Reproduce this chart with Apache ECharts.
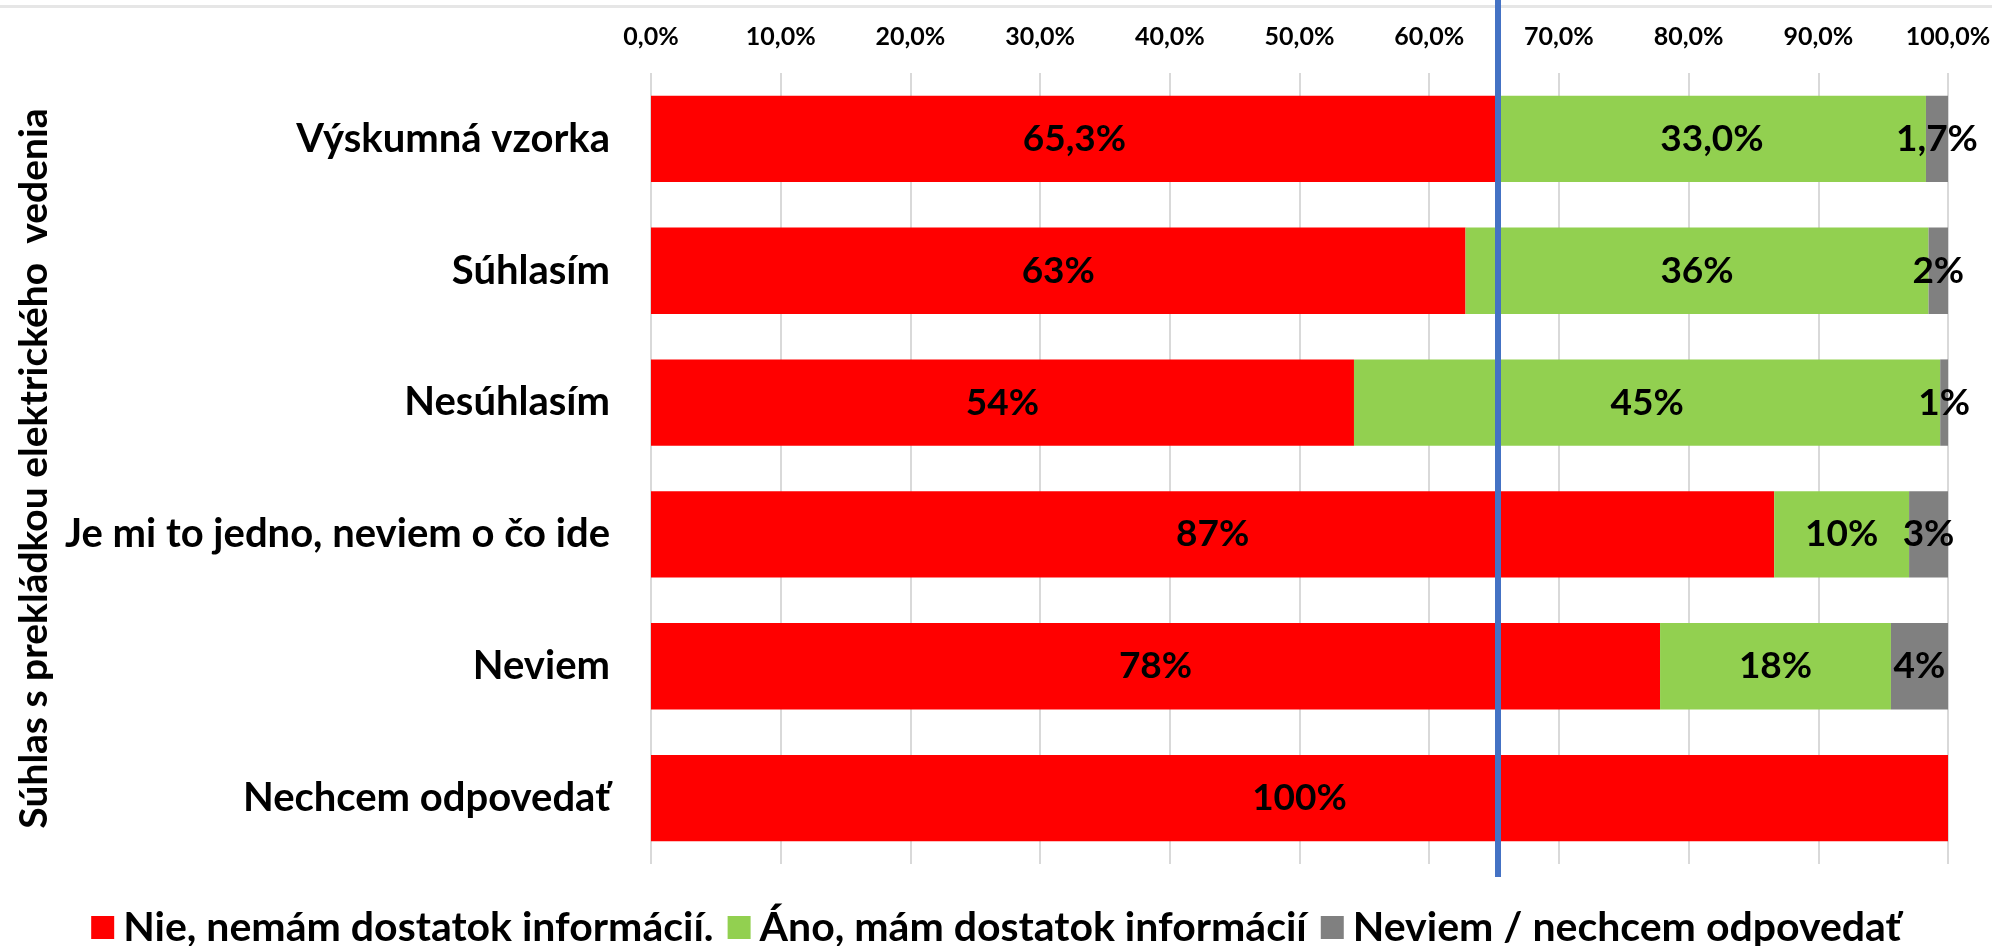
<!DOCTYPE html>
<html>
<head>
<meta charset="utf-8">
<script src="https://cdn.jsdelivr.net/npm/echarts@6/dist/echarts.min.js"></script>
<style>
  html, body { margin: 0; padding: 0; background: #fff; }
  #chart { width: 1992px; height: 946px; }
</style>
</head>
<body>
<div id="chart"></div>
<script>
// kategorie (zhora nadol)
const categories = ['Výskumná vzorka', 'Súhlasím', 'Nesúhlasím', 'Je mi to jedno, neviem o čo ide', 'Neviem', 'Nechcem odpovedať'];
// podiely v %
const nie = [65.3, 62.8, 54.2, 86.6, 77.8, 100];
const ano = [33.0, 35.7, 45.2, 10.4, 17.8, 0];
const neviem = [1.7, 1.5, 0.6, 3.0, 4.4, 0];
// pocet desatinnych miest v popiskoch
const decimals = [1, 0, 0, 0, 0, 0];
// referencna ciara = vyskumna vzorka
const refLine = nie[0];

const FONT = "Lato, 'Open Sans', sans-serif";

const chart = echarts.init(document.getElementById('chart'));

function pct(p) {
  if (!p.value) return '';
  return p.value.toFixed(decimals[p.dataIndex]).replace('.', ',') + '%';
}

const labelStyle = {
  show: true,
  position: 'inside',
  color: '#000',
  fontFamily: FONT,
  fontWeight: 'bold',
  fontSize: 37,
  formatter: pct
};

const option = {
  animation: false,
  textStyle: { fontFamily: FONT },
  graphic: [
    { type: 'rect', shape: { x: 0, y: 5, width: 1992, height: 3 }, style: { fill: '#e6e6e6' }, silent: true }
  ],
  legend: {
    left: 'center',
    top: 902,
    icon: 'rect',
    itemWidth: 23,
    itemHeight: 23,
    itemGap: 14,
    textStyle: { fontFamily: FONT, fontWeight: 'bold', fontSize: 41, color: '#000', padding: [0, 0, 0, 4] },
    data: ['Nie, nemám dostatok informácií.', 'Áno, mám dostatok informácií', 'Neviem / nechcem odpovedať']
  },
  grid: [
    { left: 651, right: 44, top: 73, height: 791, outerBoundsMode: 'none' },
    { left: 651, right: 44, top: 0, height: 877, outerBoundsMode: 'none' }
  ],
  xAxis: [
    {
      type: 'value',
      position: 'top',
      min: 0,
      max: 100,
      interval: 10,
      axisLine: { show: false },
      axisTick: { show: false },
      splitLine: { lineStyle: { color: '#d9d9d9', width: 2 } },
      axisLabel: {
        margin: 24,
        color: '#000',
        fontFamily: FONT,
        fontWeight: 'bold',
        fontSize: 25,
        formatter: v => v.toFixed(1).replace('.', ',') + '%'
      }
    },
    { type: 'value', gridIndex: 1, min: 0, max: 100, show: false }
  ],
  yAxis: [
    {
      type: 'category',
      inverse: true,
      data: categories,
      axisLine: { show: false },
      axisTick: { show: false },
      axisLabel: {
        margin: 41,
        color: '#000',
        fontFamily: FONT,
        fontWeight: 'bold',
        fontSize: 40
      },
      name: 'Súhlas s prekládkou elektrického  vedenia',
      nameLocation: 'middle',
      nameRotate: 90,
      nameGap: 595,
      nameTextStyle: { color: '#000', fontFamily: FONT, fontWeight: 'bold', fontSize: 39 }
    },
    { type: 'value', gridIndex: 1, min: 0, max: 1, show: false }
  ],
  series: [
    {
      name: 'Nie, nemám dostatok informácií.',
      type: 'bar',
      stack: 'total',
      barCategoryGap: '34.5%',
      itemStyle: { color: '#ff0000' },
      label: labelStyle,
      data: nie
    },
    {
      name: 'Áno, mám dostatok informácií',
      type: 'bar',
      stack: 'total',
      barCategoryGap: '34.5%',
      itemStyle: { color: '#92d050' },
      label: labelStyle,
      data: ano
    },
    {
      name: 'Neviem / nechcem odpovedať',
      type: 'bar',
      stack: 'total',
      barCategoryGap: '34.5%',
      itemStyle: { color: '#808080' },
      label: labelStyle,
      data: neviem
    },
    {
      type: 'line',
      xAxisIndex: 1,
      yAxisIndex: 1,
      data: [],
      z: 10,
      markLine: {
        silent: true,
        symbol: 'none',
        label: { show: false },
        lineStyle: { color: '#4472c4', width: 6, type: 'solid' },
        data: [{ xAxis: refLine }]
      }
    }
  ]
};

chart.setOption(option);
</script>
</body>
</html>
